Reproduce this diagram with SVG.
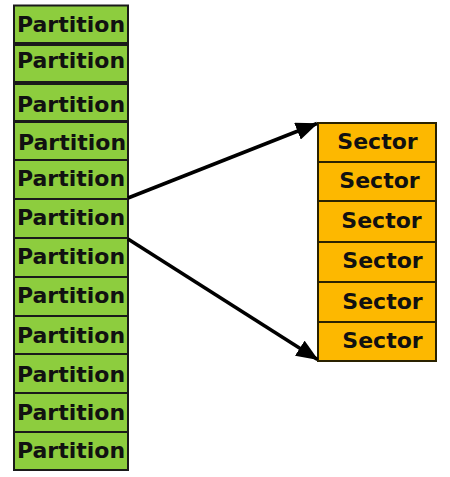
<svg xmlns="http://www.w3.org/2000/svg" width="450" height="477" viewBox="0 0 450 477">
<style>
.p{fill:#8dcd3e;stroke:#1a1a1a;stroke-width:2}
.s{fill:#fdb800;stroke:#2a2200;stroke-width:2}
text{font-family:"DejaVu Sans",sans-serif;font-weight:bold;font-size:22px;fill:#111;text-anchor:middle}
.c{fill:none;stroke:#000;stroke-width:3.5}
</style>
<defs>
<marker id="ah" markerUnits="userSpaceOnUse" markerWidth="24" markerHeight="18" refX="21" refY="9" orient="auto" viewBox="0 0 24 18">
<path d="M0,0 L22,9 L0,18 Z" fill="#000"/>
</marker>
</defs>
<rect x="0" y="0" width="450" height="477" fill="#fff"/>
<g id="p1"><rect class="p" x="14" y="5.5" width="114" height="37.5"/><text x="71" y="32">Partition</text></g>
<g id="p2"><rect class="p" x="14" y="45" width="114" height="37"/><text x="71" y="68">Partition</text></g>
<g id="p3"><rect class="p" x="14" y="84" width="114" height="37"/><text x="71" y="112">Partition</text></g>
<g id="p4"><rect class="p" x="14" y="122" width="114" height="38"/><text x="72" y="150">Partition</text></g>
<g id="p5"><rect class="p" x="14" y="160" width="114" height="39"/><text x="71" y="186">Partition</text></g>
<g id="p6"><rect class="p" x="14" y="199" width="114" height="39"/><text x="71" y="225">Partition</text></g>
<g id="p7"><rect class="p" x="14" y="238" width="114" height="39"/><text x="71" y="264">Partition</text></g>
<g id="p8"><rect class="p" x="14" y="277" width="114" height="39"/><text x="71" y="303">Partition</text></g>
<g id="p9"><rect class="p" x="14" y="316" width="114" height="38"/><text x="71" y="343">Partition</text></g>
<g id="p10"><rect class="p" x="14" y="354" width="114" height="39"/><text x="71" y="382">Partition</text></g>
<g id="p11"><rect class="p" x="14" y="393" width="114" height="39"/><text x="71" y="420">Partition</text></g>
<g id="p12"><rect class="p" x="14" y="432" width="114" height="38"/><text x="71" y="458">Partition</text></g>
<g id="s1"><rect class="s" x="318" y="123" width="118" height="39"/><text x="377.5" y="149">Sector</text></g>
<g id="s2"><rect class="s" x="318" y="162" width="118" height="39"/><text x="379.5" y="188">Sector</text></g>
<g id="s3"><rect class="s" x="318" y="201" width="118" height="41"/><text x="381.5" y="228">Sector</text></g>
<g id="s4"><rect class="s" x="318" y="242" width="118" height="40"/><text x="382.5" y="268">Sector</text></g>
<g id="s5"><rect class="s" x="318" y="282" width="118" height="40"/><text x="382.5" y="309">Sector</text></g>
<g id="s6"><rect class="s" x="318" y="322" width="118" height="39"/><text x="382.5" y="348">Sector</text></g>
<g id="connectors">
<path class="c" d="M128,198 L317,123.5" marker-end="url(#ah)"/>
<path class="c" d="M128,239 L317.5,359.5" marker-end="url(#ah)"/>
</g>
</svg>
